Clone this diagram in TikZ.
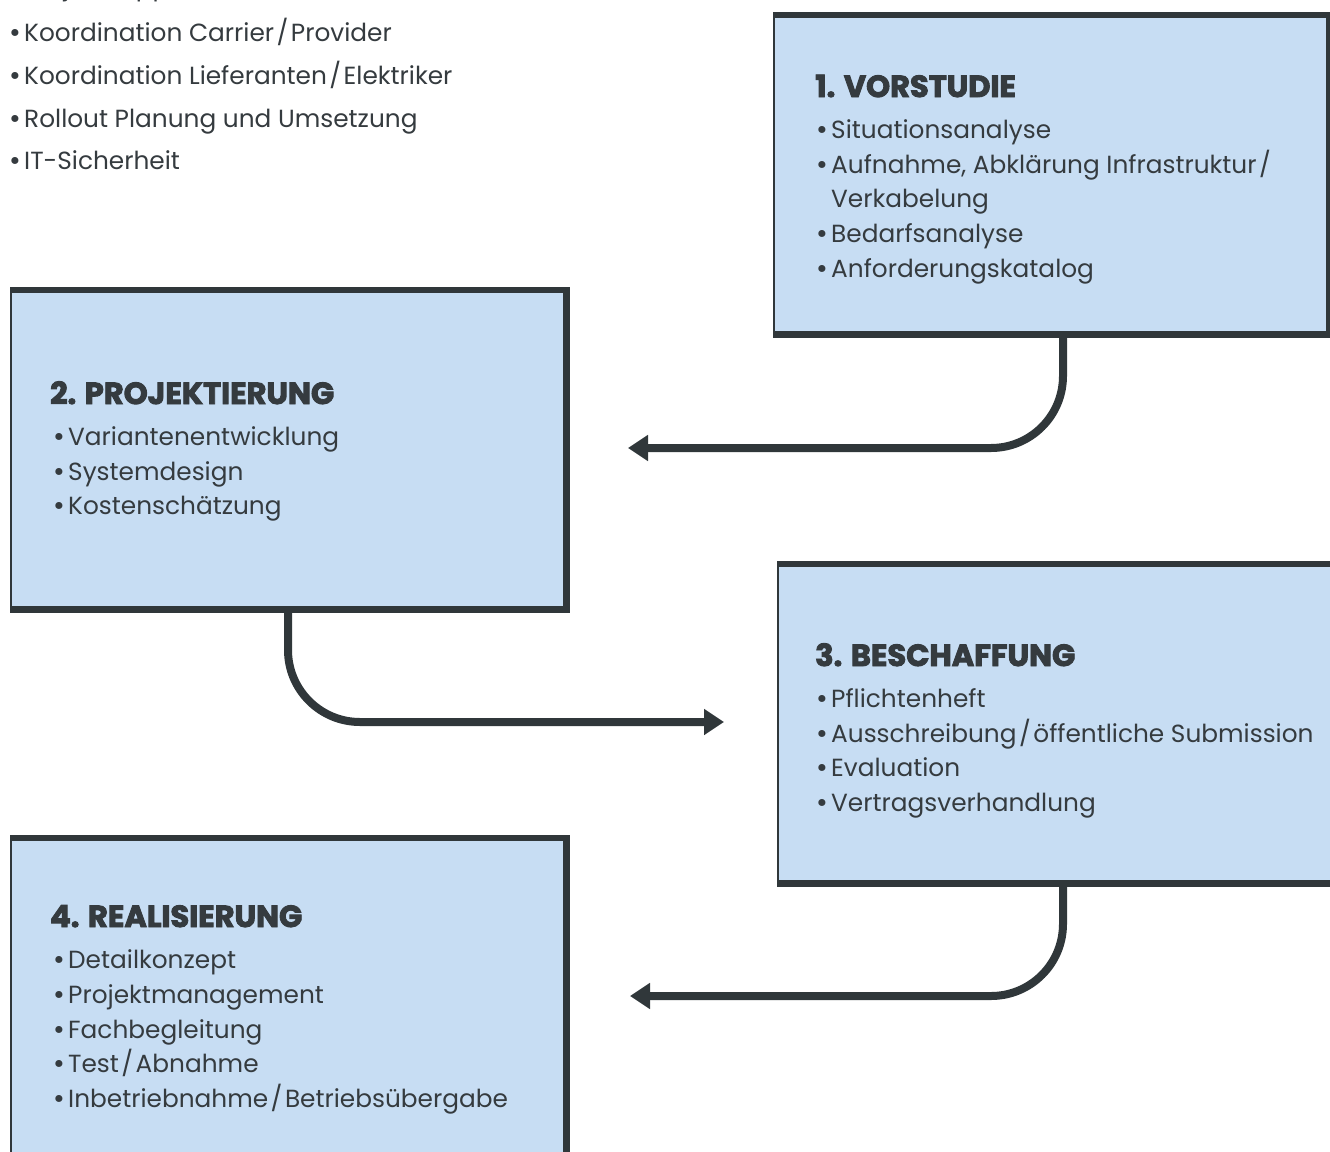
\documentclass[tikz,border=0pt]{standalone}
\usepackage{fontspec}
\setmainfont{Poppins}
\newfontfamily\headfont{Poppins}[BoldFeatures={FakeBold=3}]
\usetikzlibrary{arrows.meta}
\definecolor{boxfill}{HTML}{C7DDF3}
\definecolor{ink}{HTML}{30373A}
\definecolor{txt}{HTML}{353B3F}
\newcommand\slsh{\hspace{0.1em}/\hspace{0.1em}}
\newcommand\bul{\makebox[17pt][l]{\hspace{2pt}\raisebox{-0.06em}{\scalebox{1.15}{\textbullet}}}}
\newcommand\nobul{\makebox[17pt][l]{}}
\begin{document}
\begin{tikzpicture}[x=1pt,y=-1pt,
  panel/.style={rectangle, fill=boxfill, draw=ink, line width=1.5pt,
    anchor=north west, inner sep=0pt, minimum width=555pt, minimum height=318pt},
  edge/.style={draw=ink, line width=6.5pt, line join=miter},
  head/.style={font=\headfont\bfseries\fontsize{30.5}{36}\selectfont, text=txt,
    anchor=base west, inner sep=0pt},
  item/.style={font=\fontsize{24.8}{30}\selectfont, text=txt,
    anchor=base west, inner sep=0pt},
  conn/.style={draw=ink, line width=8pt, rounded corners=72pt,
    -{Triangle[length=20pt,width=25pt]}}]
\useasboundingbox (0,0) rectangle (1330,1151);

% top-left list
\node[item] (l0) at (7,-5) {\bul Projektsupport};
\node[item] (l1) at (7,41) {\bul Koordination Carrier\slsh Provider};
\node[item] (l2) at (7,84) {\bul Koordination Lieferanten\slsh Elektriker};
\node[item] (l3) at (7,127) {\bul Rollout Planung und Umsetzung};
\node[item] (l4) at (7,169) {\bul IT-Sicherheit};

% panels
\node[panel] (b1) at (773,15) {};
\node[panel] (b2) at (10,290) {};
\node[panel] (b3) at (777,564) {};
\node[panel, minimum height=345pt] (b4) at (10,838) {};
\foreach \b in {b1,b2,b3,b4}{
  \draw[edge] (\b.north west) -- (\b.north east) -- (\b.south east) -- (\b.south west);
}

% panel 1
\node[head] (h1) at (815,97) {1. VORSTUDIE};
\node[item] (i1a) at (814,138) {\bul Situationsanalyse};
\node[item] (i1b) at (814,173) {\bul Aufnahme, Abklärung Infrastruktur\slsh};
\node[item] (i1c) at (814,207) {\nobul Verkabelung};
\node[item] (i1d) at (814,242) {\bul Bedarfsanalyse};
\node[item] (i1e) at (814,277) {\bul Anforderungskatalog};

% panel 2
\node[head] (h2) at (50,404) {2. PROJEKTIERUNG};
\node[item] (i2a) at (51,445) {\bul Variantenentwicklung};
\node[item] (i2b) at (51,480) {\bul Systemdesign};
\node[item] (i2c) at (51,514) {\bul Kostenschätzung};

% panel 3
\node[head] (h3) at (815,666) {3. BESCHAFFUNG};
\node[item] (i3a) at (814,707) {\bul Pflichtenheft};
\node[item] (i3b) at (814,742) {\bul Ausschreibung\slsh öffentliche Submission};
\node[item] (i3c) at (814,776) {\bul Evaluation};
\node[item] (i3d) at (814,811) {\bul Vertragsverhandlung};

% panel 4
\node[head] (h4) at (50,927) {4. REALISIERUNG};
\node[item] (i4a) at (51,968) {\bul Detailkonzept};
\node[item] (i4b) at (51,1003) {\bul Projektmanagement};
\node[item] (i4c) at (51,1038) {\bul Fachbegleitung};
\node[item] (i4d) at (51,1072) {\bul Test\slsh Abnahme};
\node[item] (i4e) at (51,1107) {\bul Inbetriebnahme\slsh Betriebsübergabe};

% connectors
\coordinate (s1) at ([xshift=290pt]b1.south west);
\coordinate (e1) at (628,448);
\coordinate (s2) at ([xshift=278pt]b2.south west);
\coordinate (e2) at (724,722);
\coordinate (s3) at ([xshift=286pt]b3.south west);
\coordinate (e3) at (630,996);
\draw[conn] (s1) |- (e1);
\draw[conn] (s2) |- (e2);
\draw[conn] (s3) |- (e3);
\end{tikzpicture}
\end{document}
